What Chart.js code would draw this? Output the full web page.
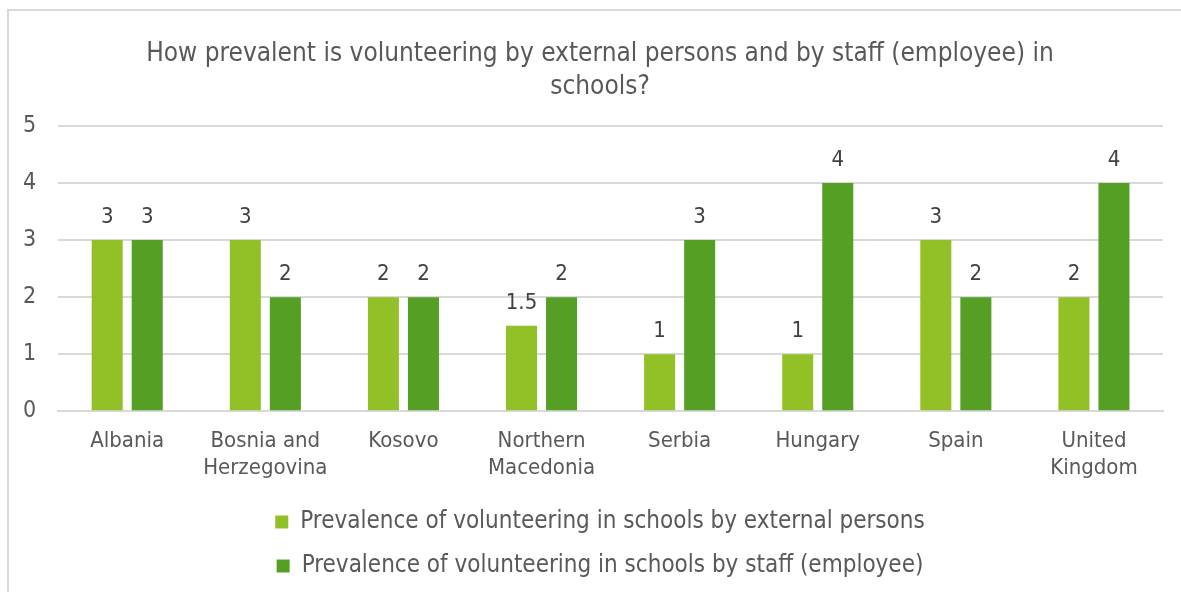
<!DOCTYPE html>
<html>
<head>
    <title>Volunteering in schools</title>
    <script src="https://cdn.jsdelivr.net/npm/chart.js"></script>
    <style>
        body { margin: 0; background: #fff; }
        #frame { position: absolute; left: 7px; top: 9px; width: 1200px; height: 600px; border: 2px solid #d9d9d9; }
        #wrap { position: absolute; left: 0; top: 0; width: 1181px; height: 592px; }
    </style>
</head>
<body>
    <div id="frame"></div>
    <div id="wrap"><canvas id="chart"></canvas></div>
    <script>
        var countries = ['Albania', ['Bosnia and', 'Herzegovina'], 'Kosovo', ['Northern', 'Macedonia'], 'Serbia', 'Hungary', 'Spain', ['United', 'Kingdom']];
        var externalPersons = [3, 3, 2, 1.5, 1, 1, 3, 2];
        var staffEmployee = [3, 2, 2, 2, 3, 4, 2, 4];
        var yTicks = [0, 1, 2, 3, 4, 5];

        var fontName = '"DejaVu Sans Condensed", "DejaVu Sans", sans-serif';

        // values above the bars
        var barLabels = {
            id: 'barLabels',
            afterDatasetsDraw: function(chart) {
                var ctx = chart.ctx;
                ctx.save();
                ctx.fillStyle = '#404040';
                ctx.font = '22px ' + fontName;
                ctx.textAlign = 'center';
                ctx.textBaseline = 'alphabetic';
                chart.data.datasets.forEach(function(ds, i) {
                    chart.getDatasetMeta(i).data.forEach(function(bar, j) {
                        ctx.fillText(String(ds.data[j]), bar.x, bar.y - 17);
                    });
                });
                ctx.restore();
            }
        };

        // title and legend sit a bit right of the plot centre in the original
        var shiftBlocks = {
            id: 'shiftBlocks',
            afterLayout: function(chart) {
                [chart.titleBlock, chart.legend].forEach(function(b) {
                    if (b) { b.left += 18; b.right += 18; }
                });
            }
        };

        new Chart(document.getElementById('chart'), {
            type: 'bar',
            data: {
                labels: countries,
                datasets: [
                    {
                        label: 'Prevalence of volunteering in schools by external persons',
                        data: externalPersons,
                        backgroundColor: '#92c027'
                    },
                    {
                        label: 'Prevalence of volunteering in schools by staff (employee)',
                        data: staffEmployee,
                        backgroundColor: '#55a024'
                    }
                ]
            },
            options: {
                responsive: true,
                maintainAspectRatio: false,
                animation: false,
                categoryPercentage: 0.58,
                barPercentage: 0.775,
                layout: { padding: { left: 1, right: 18, top: 28, bottom: 4 } },
                plugins: {
                    title: {
                        display: true,
                        text: ['How prevalent is volunteering by external persons and by staff (employee) in', 'schools?'],
                        color: '#595959',
                        font: { family: fontName, size: 26, weight: 'normal', lineHeight: 1.27 },
                        padding: { top: 10, bottom: 22 }
                    },
                    legend: {
                        position: 'bottom',
                        labels: {
                            color: '#595959',
                            font: { family: fontName, size: 24 },
                            boxWidth: 13,
                            boxHeight: 13,
                            padding: 20
                        }
                    },
                    tooltip: { enabled: false }
                },
                scales: {
                    x: {
                        grid: { display: false },
                        border: { color: '#d9d9d9', width: 2 },
                        ticks: {
                            color: '#595959',
                            font: { family: fontName, size: 22, lineHeight: 1.2 },
                            maxRotation: 0,
                            autoSkip: false,
                            padding: 9
                        }
                    },
                    y: {
                        min: 0,
                        max: 5,
                        afterBuildTicks: function(axis) {
                            axis.ticks = yTicks.map(function(v) { return { value: v }; });
                        },
                        grid: { color: '#d9d9d9', lineWidth: 2, drawTicks: false },
                        border: { display: false },
                        ticks: {
                            color: '#595959',
                            font: { family: fontName, size: 23 },
                            padding: 22
                        }
                    }
                }
            },
            plugins: [barLabels, shiftBlocks]
        });
    </script>
</body>
</html>
